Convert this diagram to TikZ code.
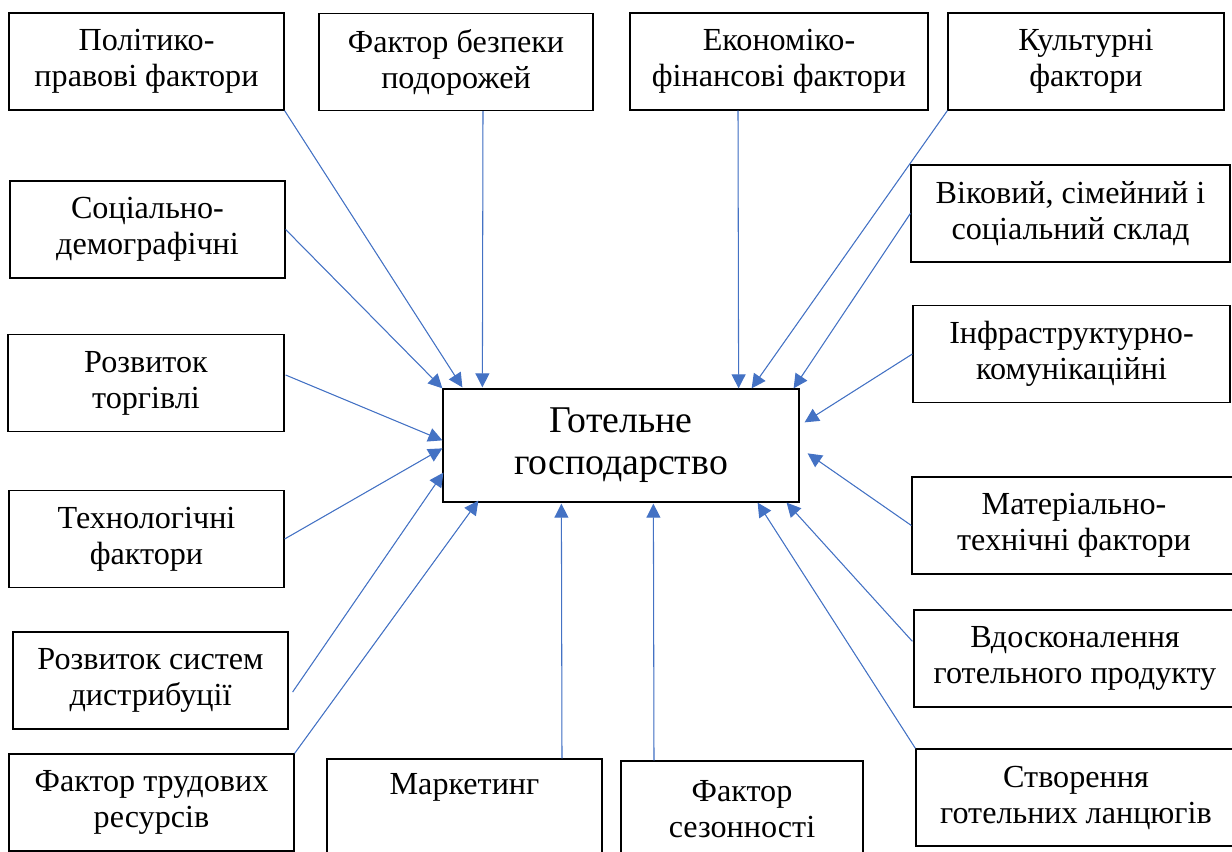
\documentclass[tikz,border=0pt]{standalone}
\usepackage{fontspec}
\setmainfont{Liberation Serif}
\usepackage{xcolor}
\usepackage{tikz}
\usetikzlibrary{arrows.meta, calc}

\definecolor{linkblue}{HTML}{4472C4}

\begin{document}
\begin{tikzpicture}[x=0.02cm, y=-0.02cm,
  factor/.style={rectangle, draw, line width=0.75pt, minimum height=1.94cm, align=center, inner sep=0pt, font=\fontsize{18.3}{20.5}\selectfont},
  hub/.style={rectangle, draw, line width=0.75pt, minimum width=7.12cm, minimum height=2.26cm, align=center, font=\fontsize{21.5}{24}\selectfont},
  link/.style={-{Triangle[length=8pt, width=8pt]}, draw=linkblue, fill=linkblue, line width=0.6pt}]

\useasboundingbox (0,0) rectangle (1232,852);
\clip (0,0) rectangle (1232,852);

\node[hub] (hotel) at (621,445.5) {Готельне\\господарство};

% top row
\node[factor, minimum width=5.5cm] (pol) at (146.5,61.5) {Політико-\\правові фактори};

\node[factor, minimum width=5.48cm] (bez) at (456,62) {Фактор безпеки\\подорожей};

\node[factor, minimum width=5.96cm] (econ) at (779,61.5) {Економіко-\\фінансові фактори};

\node[factor, minimum width=5.52cm] (cult) at (1086,61.5) {Культурні\\фактори};

% left column
\node[factor, minimum width=5.5cm] (soc) at (147.5,229.5) {Соціально-\\демографічні};

\node[factor, minimum width=5.52cm] (trade) at (146,383) {Розвиток\\торгівлі};

\node[factor, minimum width=5.5cm] (tech) at (146.5,539) {Технологічні\\фактори};

\node[factor, minimum width=5.5cm] (distr) at (150.5,680.5) {Розвиток систем\\дистрибуції};

\node[factor, minimum width=5.7cm] (lab) at (151.5,802.5) {Фактор трудових\\ресурсів};

% right column
\node[factor, minimum width=6.38cm] (age) at (1070.5,213.5) {Віковий, сімейний і\\соціальний склад};

\node[factor, minimum width=6.34cm] (infra) at (1071.5,354) {Інфраструктурно-\\комунікаційні};

\node[factor, minimum width=6.48cm] (mat) at (1074,525.5) {Матеріально-\\технічні фактори};

\node[factor, minimum width=6.44cm] (impr) at (1075,658.5) {Вдосконалення\\готельного продукту};

\node[factor, minimum width=6.4cm] (chain) at (1076,797.5) {Створення\\готельних ланцюгів};

% bottom row
\node[factor, minimum width=5.5cm] (mark) at (464.5,807.5) {Маркетинг\\\strut};

\node[factor, minimum width=4.84cm] (seas) at (742,809.5) {Фактор\\сезонності};

% arrows into the hub
\draw[link] (pol.south east) -- ($(hotel.north west)+(20,-1)$);
\draw[link] ($(bez.south)+(27,0)$) -- ($(hotel.north west)+(40,-1)$);
\draw[link] ($(econ.south)+(-41,0)$) -- ($(hotel.north east)+(-61,0)$);
\draw[link] (cult.south west) -- ($(hotel.north east)+(-48,0)$);
\draw[link] (soc.east) -- (hotel.north west);
\draw[link] ($(trade.east)+(1,-8)$) -- ($(hotel.north west)+(0,52)$);
\draw[link] (tech.east) -- ($(hotel.north west)+(0,60)$);
\draw[link] ($(distr.east)+(4,11.5)$) -- ($(hotel.south west)+(1,-30)$);
\draw[link] (lab.north east) -- ($(hotel.south west)+(36,-2)$);
\draw[link] ($(mark.north)+(97.5,0)$) -- ($(hotel.south west)+(119,1)$);
\draw[link] ($(seas.north)+(-88,0)$) -- ($(hotel.south west)+(211,1)$);
\draw[link] (chain.north west) -- ($(hotel.south east)+(-42,0)$);
\draw[link] ($(impr.north west)+(-1,32)$) -- ($(hotel.south east)+(-13,0)$);
\draw[link] (mat.west) -- ($(hotel.north east)+(8,65)$);
\draw[link] (infra.west) -- ($(hotel.north east)+(5,34)$);
\draw[link] (age.west) -- ($(hotel.north east)+(-6,0)$);

\end{tikzpicture}
\end{document}
